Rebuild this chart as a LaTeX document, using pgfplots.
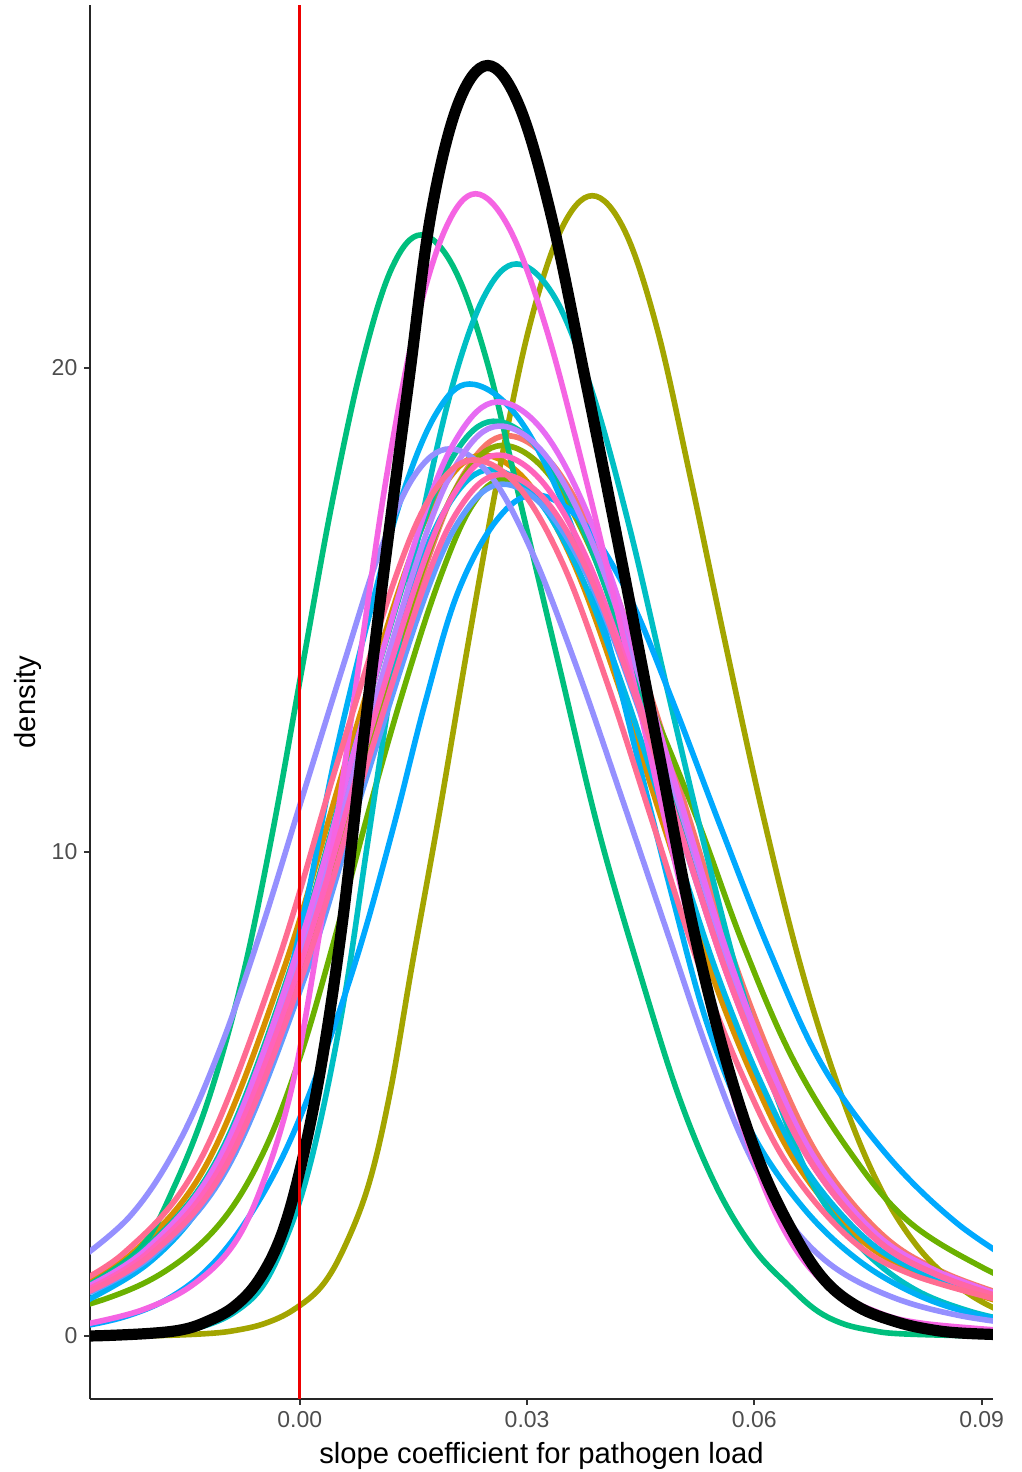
\documentclass[border=0pt]{standalone}
\usepackage{pgfplots}
\pgfplotsset{compat=1.18}
\usepackage{fontspec}
\setmainfont{Liberation Sans}
\definecolor{tickgray}{HTML}{4D4D4D}
\definecolor{cSalmon}{HTML}{F8766D}
\definecolor{cOrange}{HTML}{D89000}
\definecolor{cOlive}{HTML}{A3A500}
\definecolor{cYG}{HTML}{8AAB00}
\definecolor{cGreen}{HTML}{6BB100}
\definecolor{cTealGreen}{HTML}{00BF7D}
\definecolor{cTeal}{HTML}{00C19A}
\definecolor{cCyan}{HTML}{00BFC4}
\definecolor{cSky}{HTML}{00B8E7}
\definecolor{cLightBlue}{HTML}{00B0F6}
\definecolor{cWideBlue}{HTML}{00A9FF}
\definecolor{cBlue}{HTML}{619CFF}
\definecolor{cLavender}{HTML}{9590FF}
\definecolor{cPurple}{HTML}{B983FF}
\definecolor{cViolet}{HTML}{E76BF3}
\definecolor{cTallPink}{HTML}{F564E3}
\definecolor{cPink}{HTML}{FF62BC}
\definecolor{cPinkTwo}{HTML}{FF67A4}
\definecolor{cPinkRed}{HTML}{FF6C91}
\definecolor{cRed}{HTML}{EE0000}
\pgfplotsset{cv/.style={smooth, tension=0.6, line width=2.8pt, line join=round}}
\begin{document}
\begin{tikzpicture}
\begin{axis}[
  scale only axis, width=451.5pt, height=697pt,
  xmin=-0.0277, xmax=0.0915, ymin=-1.30, ymax=27.5,
  axis x line*=bottom, axis y line*=left,
  axis line style={-, line width=0.9pt, black!85},
  xtick={0,0.03,0.06,0.09}, xticklabels={0.00,0.03,0.06,0.09},
  ytick={0,10,20}, yticklabels={0,10,20},
  scaled x ticks=false, scaled y ticks=false,
  minor tick num=0,
  tick align=outside, major tick length=2.8pt,
  tick style={line width=0.9pt, black!80},
  ticklabel style={font=\fontsize{11.5}{13}\selectfont, text=tickgray},
  xlabel={slope coefficient for pathogen load}, ylabel={density},
  label style={font=\fontsize{14.6}{17}\selectfont},
  xlabel style={at={(axis description cs:0.5,-0.0305)}, anchor=north, inner sep=0pt},
  ylabel style={at={(axis description cs:-0.0687,0.5)}, anchor=center, inner sep=0pt},
  no markers,
  clip=true,
]
\addplot[cv, cSalmon] coordinates {(-0.0288,0.84) (-0.0188,1.77) (-0.0088,3.72) (0.0012,7.81) (0.0092,12.09) (0.0172,16.18) (0.0222,17.95) (0.0272,18.6) (0.0332,18.04) (0.0392,16.37) (0.0452,13.76) (0.0512,10.79) (0.0572,7.81) (0.0632,5.39) (0.0692,3.53) (0.0772,2.05) (0.0852,1.30) (0.0952,0.74)};
\addplot[cv, cOrange] coordinates {(-0.032,0.82) (-0.022,1.73) (-0.012,3.64) (-0.002,7.64) (0.006,11.83) (0.014,15.83) (0.019,17.56) (0.024,18.2) (0.030,17.65) (0.036,16.02) (0.042,13.47) (0.048,10.56) (0.054,7.64) (0.060,5.28) (0.066,3.46) (0.074,2.00) (0.082,1.27) (0.092,0.73)};
\addplot[cv, cOlive] coordinates {(-0.030,0) (-0.0194,0.008) (-0.0122,0.052) (-0.0084,0.12) (-0.0046,0.262) (-0.0009,0.537) (0.0029,1.034) (0.0060,1.875) (0.0092,3.19) (0.0120,5.10) (0.0148,7.65) (0.0184,10.79) (0.0222,14.29) (0.0262,17.78) (0.0302,20.79) (0.0344,22.83) (0.0386,23.56) (0.0429,22.83) (0.0472,20.79) (0.0515,17.78) (0.0562,14.29) (0.0611,10.79) (0.0661,7.65) (0.0712,5.10) (0.0762,3.19) (0.0814,1.875) (0.0869,1.034) (0.0922,0.537) (0.0977,0.262)};
\addplot[cv, cYG] coordinates {(-0.0294,0.83) (-0.0194,1.75) (-0.0094,3.68) (0.0006,7.73) (0.0086,11.96) (0.0166,16.01) (0.0216,17.76) (0.0266,18.4) (0.0326,17.85) (0.0386,16.19) (0.0446,13.62) (0.0506,10.67) (0.0566,7.73) (0.0626,5.34) (0.0686,3.50) (0.0766,2.02) (0.0846,1.29) (0.0946,0.74)};
\addplot[cv, cGreen] coordinates {(-0.039,0.196) (-0.0255,0.777) (-0.0171,1.41) (-0.0102,2.39) (-0.0047,3.83) (0.0000,5.75) (0.0044,8.10) (0.0089,10.74) (0.0137,13.36) (0.0184,15.62) (0.0227,17.15) (0.027,17.7) (0.0325,17.15) (0.0386,15.62) (0.0454,13.36) (0.0523,10.74) (0.0585,8.10) (0.0650,5.75) (0.0725,3.83) (0.0802,2.39) (0.0902,1.41) (0.0995,0.777)};
\addplot[cv, cTealGreen] coordinates {(-0.0285,1.0) (-0.0211,1.81) (-0.0166,3.08) (-0.0120,4.92) (-0.0076,7.39) (-0.0036,10.41) (0.0003,13.80) (0.0042,17.17) (0.0082,20.08) (0.0121,22.05) (0.0160,22.75) (0.0204,22.05) (0.0248,20.08) (0.0292,17.17) (0.0343,13.80) (0.0395,10.41) (0.0451,7.39) (0.0501,4.92) (0.0550,3.08) (0.0599,1.81) (0.0648,1.0) (0.0683,0.52) (0.0718,0.25) (0.0755,0.116) (0.0790,0.05) (0.0880,0.008) (0.095,0)};
\addplot[cv, cTeal] coordinates {(-0.0305,0.85) (-0.0205,1.80) (-0.0105,3.78) (-0.0005,7.94) (0.0075,12.29) (0.0155,16.44) (0.0205,18.24) (0.0255,18.9) (0.0315,18.33) (0.0375,16.63) (0.0435,13.99) (0.0495,10.96) (0.0555,7.94) (0.0615,5.48) (0.0675,3.59) (0.0755,2.08) (0.0835,1.32) (0.0935,0.76)};
\addplot[cv, cCyan] coordinates {(-0.033,0.001) (-0.0262,0.0074) (-0.0194,0.0485) (-0.0156,0.113) (-0.0119,0.246) (-0.0085,0.505) (-0.0052,0.97) (-0.0025,1.76) (0.0004,3.00) (0.0032,4.79) (0.0061,7.19) (0.0089,10.14) (0.0121,13.43) (0.0159,16.72) (0.0200,19.55) (0.0243,21.47) (0.0286,22.15) (0.0336,21.47) (0.0385,19.55) (0.0435,16.72) (0.0484,13.43) (0.0534,10.14) (0.0583,7.19) (0.0633,4.79) (0.0682,3.00) (0.0745,1.76) (0.0811,0.97) (0.0886,0.505) (0.0961,0.246)};
\addplot[cv, cSky] coordinates {(-0.031,0.81) (-0.021,1.70) (-0.011,3.58) (-0.001,7.52) (0.007,11.64) (0.015,15.57) (0.020,17.27) (0.025,17.9) (0.031,17.36) (0.037,15.75) (0.043,13.25) (0.049,10.38) (0.055,7.52) (0.061,5.19) (0.067,3.40) (0.075,1.97) (0.083,1.25) (0.093,0.72)};
\addplot[cv, cLightBlue] coordinates {(-0.0391,0.218) (-0.0326,0.448) (-0.0266,0.86) (-0.0195,1.57) (-0.0132,2.66) (-0.0077,4.25) (-0.0031,6.39) (0.0009,9.00) (0.0046,11.93) (0.0091,14.85) (0.0135,17.36) (0.0180,19.06) (0.0224,19.67) (0.0284,19.06) (0.0343,17.36) (0.0398,14.85) (0.0446,11.93) (0.0493,9.00) (0.0539,6.39) (0.0595,4.25) (0.0664,2.66) (0.0737,1.57) (0.0814,0.86) (0.0892,0.448) (0.0974,0.218)};
\addplot[cv, cWideBlue] coordinates {(-0.029,0.193) (-0.0232,0.396) (-0.0175,0.763) (-0.0122,1.38) (-0.0072,2.35) (-0.0021,3.76) (0.0028,5.64) (0.0078,7.96) (0.0124,10.54) (0.0166,13.12) (0.0208,15.34) (0.0259,16.84) (0.031,17.38) (0.0372,16.84) (0.0433,15.34) (0.0492,13.12) (0.0555,10.54) (0.0620,7.96) (0.0688,5.64) (0.0774,3.76) (0.0866,2.35) (0.0958,1.38)};
\addplot[cv, cBlue] coordinates {(-0.0294,0.79) (-0.0194,1.67) (-0.0094,3.52) (0.0006,7.39) (0.0086,11.44) (0.0166,15.31) (0.0216,16.98) (0.0266,17.6) (0.0326,17.07) (0.0386,15.49) (0.0446,13.02) (0.0506,10.21) (0.0566,7.39) (0.0626,5.10) (0.0686,3.34) (0.0766,1.94) (0.0846,1.23) (0.0946,0.70)};
\addplot[cv, cLavender] coordinates {(-0.0302,1.46) (-0.0224,2.48) (-0.0161,3.96) (-0.0105,5.95) (-0.0051,8.39) (0.0003,11.12) (0.0057,13.84) (0.0105,16.18) (0.0151,17.77) (0.0198,18.33) (0.0252,17.77) (0.0307,16.18) (0.0365,13.84) (0.0425,11.12) (0.0484,8.39) (0.0537,5.95) (0.0587,3.96) (0.0640,2.48) (0.0702,1.46) (0.0783,0.80) (0.0872,0.42) (0.0972,0.20)};
\addplot[cv, cPurple] coordinates {(-0.0298,0.85) (-0.0198,1.79) (-0.0098,3.76) (0.0002,7.90) (0.0082,12.22) (0.0162,16.36) (0.0212,18.14) (0.0262,18.8) (0.0322,18.24) (0.0382,16.54) (0.0442,13.91) (0.0502,10.90) (0.0562,7.90) (0.0622,5.45) (0.0682,3.57) (0.0762,2.07) (0.0842,1.32) (0.0942,0.75)};
\addplot[cv, cViolet] coordinates {(-0.030,0.87) (-0.020,1.83) (-0.010,3.86) (0.000,8.11) (0.008,12.55) (0.016,16.79) (0.021,18.62) (0.026,19.3) (0.032,18.72) (0.038,16.98) (0.044,14.28) (0.050,11.19) (0.056,8.11) (0.062,5.60) (0.068,3.67) (0.076,2.12) (0.084,1.35) (0.094,0.77)};
\addplot[cv, cTallPink] coordinates {(-0.0278,0.262) (-0.0208,0.54) (-0.0143,1.04) (-0.0088,1.88) (-0.0048,3.19) (-0.0011,5.10) (0.0019,7.66) (0.0050,10.80) (0.0082,14.31) (0.0115,17.81) (0.0152,20.83) (0.0192,22.87) (0.0232,23.6) (0.0277,22.87) (0.0325,20.83) (0.0376,17.81) (0.0429,14.31) (0.0480,10.80) (0.0528,7.66) (0.0570,5.10) (0.0610,3.19) (0.0651,1.88) (0.0697,1.04) (0.0755,0.54) (0.0823,0.262) (0.0985,0.052)};
\addplot[cv, cPink] coordinates {(-0.030,0.82) (-0.020,1.73) (-0.010,3.64) (0.000,7.64) (0.008,11.83) (0.016,15.83) (0.021,17.56) (0.026,18.2) (0.032,17.65) (0.038,16.02) (0.044,13.47) (0.050,10.56) (0.056,7.64) (0.062,5.28) (0.068,3.46) (0.076,2.00) (0.084,1.27) (0.094,0.73)};
\addplot[cv, cPinkTwo] coordinates {(-0.0296,0.80) (-0.0196,1.69) (-0.0096,3.56) (0.0004,7.48) (0.0084,11.57) (0.0164,15.49) (0.0214,17.18) (0.0264,17.8) (0.0324,17.27) (0.0384,15.66) (0.0444,13.17) (0.0504,10.32) (0.0564,7.48) (0.0624,5.16) (0.0684,3.38) (0.0764,1.96) (0.0844,1.25) (0.0944,0.71)};
\addplot[cv, cPinkRed] coordinates {(-0.0332,0.81) (-0.0232,1.72) (-0.0132,3.62) (-0.0032,7.60) (0.0048,11.77) (0.0128,15.75) (0.0178,17.47) (0.0228,18.1) (0.0288,17.56) (0.0348,15.93) (0.0408,13.39) (0.0468,10.50) (0.0528,7.60) (0.0588,5.25) (0.0648,3.44) (0.0728,1.99) (0.0808,1.27) (0.0935,0.70)};
\addplot[cv, black, line width=5.6pt] coordinates {(-0.030,0) (-0.0260,0.009) (-0.01965,0.0575) (-0.0155,0.133) (-0.0124,0.291) (-0.00875,0.599) (-0.00545,1.15) (-0.00243,2.09) (0.0002,3.55) (0.00292,5.68) (0.0056,8.52) (0.00817,12.02) (0.0112,15.92) (0.01445,19.81) (0.0173,23.17) (0.02085,25.44) (0.0248,26.25) (0.0289,25.44) (0.03315,23.17) (0.03763,19.81) (0.0426,15.92) (0.04743,12.02) (0.0518,8.52) (0.0563,5.68) (0.0608,3.55) (0.0653,2.09) (0.0693,1.15) (0.07375,0.599) (0.0788,0.291) (0.0833,0.133) (0.0878,0.0575) (0.0968,0.009)};
\addplot[cRed, line width=1.4pt, sharp plot] coordinates {(0,-1.3) (0,27.5)};
\end{axis}
\pgfresetboundingbox
\path[use as bounding box] (-45pt,-36.5pt) rectangle (466pt,699.5pt);
\end{tikzpicture}
\end{document}
